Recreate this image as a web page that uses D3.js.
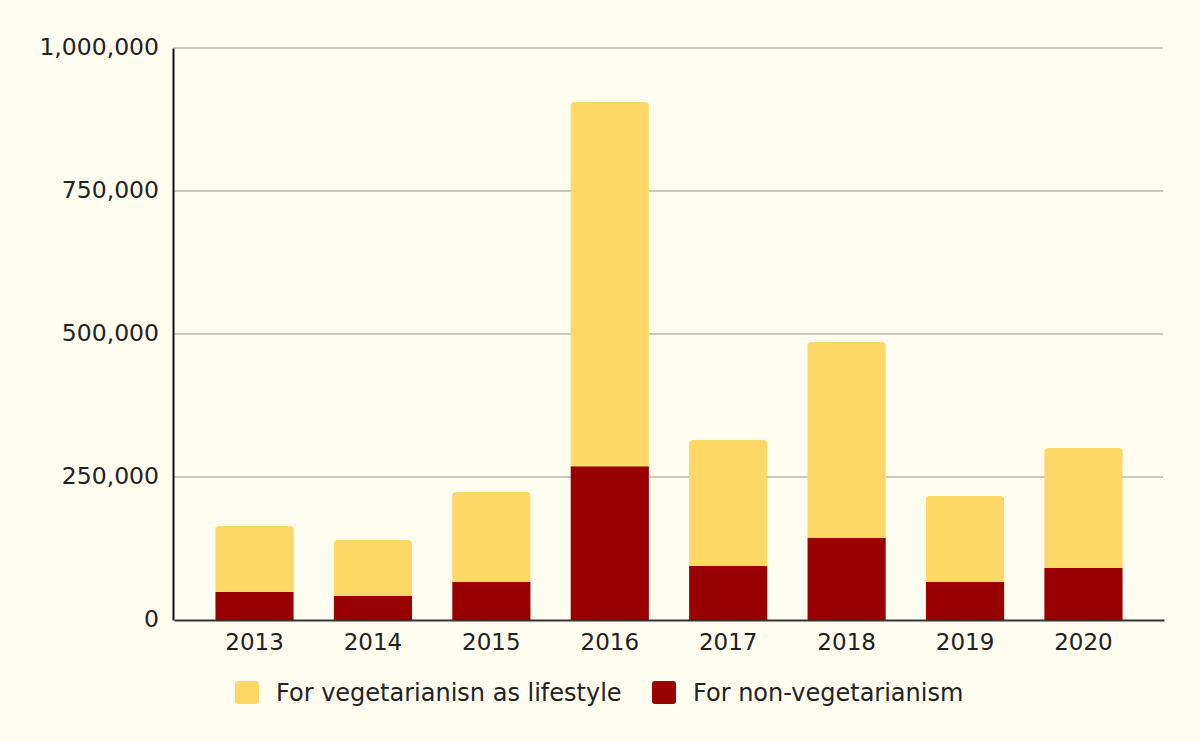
<!DOCTYPE html>
<html><head><meta charset="utf-8">
<script src="https://cdn.jsdelivr.net/npm/d3@7"></script>
<style>
html,body{margin:0;padding:0;background:#fffdf0;}
svg{display:block;}
svg text{font-family:"DejaVu Sans",Verdana,sans-serif;}
</style></head>
<body><svg id="c" width="1200" height="742"></svg>
<script>
const years = ["2013","2014","2015","2016","2017","2018","2019","2020"];
const nonVeg = [49000, 42500, 66500, 269000, 94500, 143500, 66500, 91000];
const lifestyle = [115300, 97400, 157300, 636600, 220200, 342500, 150300, 209700];
const yTicks = [0, 250000, 500000, 750000, 1000000];
const seriesNames = ["For vegetarianisn as lifestyle", "For non-vegetarianism"];
const colors = {lifestyle: "#fed866", nonVeg: "#990000"};

const FONT = '"DejaVu Sans", Verdana, sans-serif';
const svg = d3.select("#c");
svg.append("rect").attr("width",1200).attr("height",742).attr("fill","#fffdf0");
const L=173, R=1163, T=48, B=620;
const x = d3.scaleBand().domain(years).range([L+1,R+1]).paddingInner(0.34).paddingOuter(0.35);
const y = d3.scaleLinear().domain([0,1000000]).range([B,T]);

// gridlines
svg.append("g").selectAll("line").data(yTicks.filter(d=>d>0)).join("line")
  .attr("x1",L).attr("x2",R).attr("y1",d=>y(d)).attr("y2",d=>y(d))
  .attr("stroke","#c8c8c0").attr("stroke-width",2);

const rows = years.map((yr,i)=>({year:yr, nonVeg:nonVeg[i], lifestyle:lifestyle[i]}));
const stack = d3.stack().keys(["nonVeg","lifestyle"])(rows);

function topRounded(x0,y0,w,h,r){
  return `M${x0},${y0+h}V${y0+r}Q${x0},${y0} ${x0+r},${y0}H${x0+w-r}Q${x0+w},${y0} ${x0+w},${y0+r}V${y0+h}Z`;
}
stack.forEach(s=>{
  const g = svg.append("g").attr("fill", colors[s.key]);
  g.selectAll("path").data(s).join("path")
    .attr("d", d=>{
      const x0=x(d.data.year), w=x.bandwidth(), y0=y(d[1]), h=y(d[0])-y(d[1]);
      return s.key==="lifestyle" ? topRounded(x0,y0,w,h,4) : `M${x0},${y0}h${w}v${h}h${-w}Z`;
    });
});

// axes
const yAxis = svg.append("g").attr("transform",`translate(${L},0)`)
  .call(d3.axisLeft(y).tickValues(yTicks).tickFormat(d3.format(",")).tickSize(0).tickPadding(14));
yAxis.attr("font-family", FONT);
yAxis.select(".domain").attr("stroke","#111").attr("stroke-width",2);
yAxis.selectAll("text").attr("font-size",23.5).attr("fill","#222").attr("dy","0.28em");

const xAxis = svg.append("g").attr("transform",`translate(0,${B})`)
  .call(d3.axisBottom(x).tickSize(0).tickPadding(10));
xAxis.attr("font-family", FONT);
xAxis.select(".domain").attr("stroke","#333").attr("stroke-width",2);
xAxis.selectAll("text").attr("font-size",23).attr("fill","#222").attr("dy","0.71em").attr("y",14);

// legend
const legend = svg.append("g").attr("font-family", FONT);
const items = [
  {name: seriesNames[0], color: colors.lifestyle, x: 235},
  {name: seriesNames[1], color: colors.nonVeg, x: 652}
];
items.forEach(it=>{
  legend.append("rect").attr("x",it.x).attr("y",681).attr("width",24).attr("height",23).attr("rx",3).attr("fill",it.color);
  legend.append("text").attr("x",it.x+41).attr("y",701)
    .attr("font-size",24).attr("fill","#222").text(it.name);
});
</script></body></html>
